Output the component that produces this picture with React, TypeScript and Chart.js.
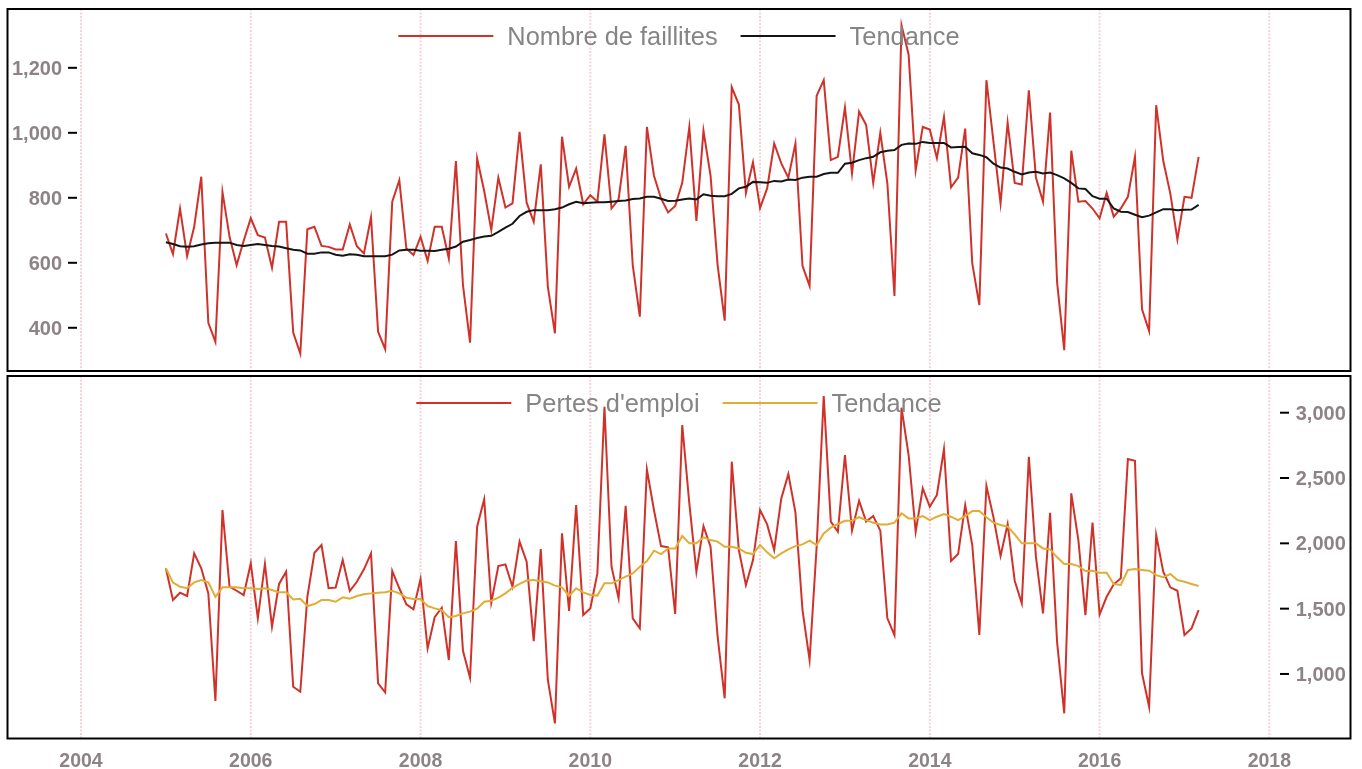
import React, { useEffect, useRef } from "react";
import { Chart, registerables } from "chart.js";

Chart.register(...registerables);

// ---------- data ----------
const START_YEAR = 2005; // first monthly observation: January 2005
const X_MIN = 2003.134;
const X_MAX = 2018.956;

const yearTicks = [2004, 2006, 2008, 2010, 2012, 2014, 2016, 2018];
const topTicks = [400, 600, 800, 1000, 1200];
const bottomTicks = [1000, 1500, 2000, 2500, 3000];

const faillites = [
  690, 627, 767, 621, 711, 865, 415, 357, 818, 680, 593, 668,
  737, 685, 678, 585, 726, 726, 385, 321, 703, 711, 652, 649,
  641, 641, 718, 651, 629, 740, 388, 334, 788, 854, 644, 624,
  680, 606, 711, 711, 613, 913, 531, 354, 921, 821, 701, 862,
  770, 783, 1003, 785, 726, 903, 526, 383, 988, 834, 890, 780,
  808, 788, 995, 767, 795, 960, 593, 434, 1018, 868, 798, 755,
  775, 846, 1018, 729, 1006, 868, 593, 422, 1140, 1087, 815, 909,
  769, 829, 967, 906, 862, 967, 591, 529, 1114, 1162, 916, 926,
  1078, 875, 1065, 1024, 846, 1000, 844, 498, 1331, 1241, 885, 1018,
  1010, 922, 1049, 832, 862, 1013, 598, 470, 1162, 972, 783, 1031,
  846, 841, 1131, 862, 788, 1062, 538, 331, 945, 788, 790, 767,
  737, 815, 742, 767, 803, 926, 457, 390, 1085, 914, 813, 672,
  803, 800, 926,
];

const faillitesTendance = [
  663, 658, 651, 649, 651, 656, 660, 662, 662, 662, 655, 652,
  655, 658, 655, 652, 650, 645, 640, 638, 628, 628, 632, 632,
  625, 622, 626, 625, 620, 620, 620, 620, 625, 638, 640, 640,
  637, 637, 636, 640, 643, 650, 665, 670, 676, 681, 683, 695,
  708, 720, 744, 757, 762, 762, 762, 765, 770, 780, 788, 783,
  785, 786, 786, 788, 790, 792, 796, 798, 803, 803, 797, 790,
  791, 795, 798, 795, 811, 806, 805, 805, 812, 829, 834, 849,
  848, 846, 852, 850, 856, 855, 862, 865, 865, 873, 877, 877,
  905, 908, 916, 922, 926, 940, 945, 947, 963, 967, 966, 972,
  969, 969, 969, 955, 956, 957, 937, 932, 925, 905, 893, 890,
  880, 872, 878, 880, 875, 878, 870, 860, 846, 829, 827, 805,
  797, 797, 767, 757, 756, 748, 740, 745, 755, 765, 765, 762,
  763, 764, 778,
];

const pertesEmploi = [
  1809, 1566, 1622, 1597, 1923, 1809, 1617, 793, 2255, 1668, 1637, 1604,
  1847, 1426, 1842, 1362, 1689, 1783, 902, 864, 1591, 1928, 1987, 1656,
  1661, 1872, 1635, 1706, 1801, 1923, 928, 859, 1788, 1656, 1533, 1495,
  1727, 1196, 1434, 1507, 1107, 2018, 1178, 971, 2127, 2337, 1546, 1826,
  1839, 1668, 2013, 1859, 1252, 1956, 954, 622, 2076, 1482, 2293, 1451,
  1502, 1770, 3046, 1821, 1579, 2288, 1426, 1349, 2566, 2255, 1979, 1969,
  1459, 2906, 2306, 1783, 2132, 1974, 1285, 814, 2625, 1949, 1681, 1872,
  2255, 2145, 1949, 2344, 2530, 2237, 1489, 1107, 1974, 3127, 2166, 2089,
  2676, 2097, 2325, 2166, 2209, 2097, 1426, 1298, 3038, 2676, 2089, 2421,
  2280, 2370, 2722, 1865, 1918, 2293, 1987, 1298, 2439, 2199, 1903, 2148,
  1714, 1541, 2663, 1898, 1464, 2234, 1240, 699, 2383, 2025, 1451, 2158,
  1456, 1591, 1686, 1732, 2645, 2632, 1005, 749, 2064, 1783, 1663, 1637,
  1298, 1349, 1489,
];

const pertesTendance = [
  1809, 1699, 1668, 1656, 1701, 1719, 1701, 1591, 1663, 1663, 1663, 1656,
  1656, 1650, 1656, 1643, 1625, 1625, 1571, 1576, 1520, 1535, 1566, 1566,
  1553, 1587, 1576, 1597, 1610, 1617, 1622, 1625, 1637, 1617, 1584, 1574,
  1574, 1520, 1502, 1489, 1434, 1444, 1464, 1477, 1500, 1553, 1561, 1584,
  1617, 1660, 1690, 1715, 1719, 1710, 1701, 1676, 1663, 1597, 1656, 1625,
  1605, 1600, 1694, 1694, 1719, 1745, 1770, 1821, 1865, 1944, 1918, 1961,
  1961, 2056, 2000, 2000, 2046, 2025, 2013, 1974, 1974, 1961, 1928, 1918,
  1987, 1931, 1885, 1923, 1954, 1979, 1992, 2020, 1987, 2076, 2120, 2148,
  2173, 2173, 2200, 2178, 2158, 2145, 2145, 2158, 2230, 2191, 2191, 2209,
  2178, 2204, 2224, 2204, 2178, 2209, 2247, 2247, 2199, 2158, 2140, 2127,
  2069, 2000, 2000, 2000, 1961, 1954, 1893, 1842, 1842, 1826, 1788, 1790,
  1775, 1775, 1689, 1681, 1796, 1803, 1796, 1790, 1757, 1740, 1765, 1719,
  1706, 1689, 1673,
];

const monthX = faillites.map((_, i) => START_YEAR + i / 12);

// ---------- styles ----------
const RED = "#d0322a";
const BLACK = "#151515";
const YELLOW = "#e2ad35";
const GRID = "#f3d3d7";
const TICK_TEXT = "#8d8386";
const LEGEND_TEXT = "#858585";
const FONT = '"Liberation Sans", Arial, Helvetica, sans-serif';

const framePlugin = {
  id: "frame",
  beforeDatasetsDraw(chart: any) {
    const { ctx, chartArea: a, scales } = chart;
    const x = scales.x;
    ctx.save();
    ctx.strokeStyle = GRID;
    ctx.lineWidth = 2;
    ctx.setLineDash([2, 1.5]);
    for (const yr of yearTicks) {
      const px = x.getPixelForValue(yr);
      ctx.beginPath();
      ctx.moveTo(px, a.top);
      ctx.lineTo(px, a.bottom);
      ctx.stroke();
    }
    ctx.restore();
  },
  afterDraw(chart: any, _args: any, opts: any) {
    const { ctx, chartArea: a, scales } = chart;
    const x = scales.x;
    const y = scales.y;
    ctx.save();
    // frame
    ctx.strokeStyle = "#000";
    ctx.lineWidth = 2;
    ctx.setLineDash([]);
    ctx.strokeRect(a.left, a.top, a.right - a.left, a.bottom - a.top);

    // y ticks (inside the frame)
    ctx.font = `bold 20px ${FONT}`;
    ctx.textBaseline = "alphabetic";
    const ticks: number[] = opts.ticks || [];
    for (const v of ticks) {
      const py = y.getPixelForValue(v);
      ctx.strokeStyle = "#000";
      ctx.lineWidth = 2;
      ctx.beginPath();
      if (opts.side === "left") {
        ctx.moveTo(a.left + 60.5, py);
        ctx.lineTo(a.left + 69.5, py);
      } else {
        ctx.moveTo(a.right - 70.5, py);
        ctx.lineTo(a.right - 61.5, py);
      }
      ctx.stroke();
      ctx.fillStyle = TICK_TEXT;
      const label = v.toLocaleString("en-US");
      if (opts.side === "left") {
        ctx.textAlign = "right";
        ctx.fillText(label, a.left + 54.5, py + 7);
      } else {
        ctx.textAlign = "left";
        ctx.fillText(label, a.right - 54.8, py + 7);
      }
    }

    // x labels
    if (opts.xLabels) {
      ctx.font = `bold 19.5px ${FONT}`;
      ctx.textAlign = "center";
      ctx.fillStyle = TICK_TEXT;
      for (const yr of yearTicks) {
        ctx.fillText(String(yr), x.getPixelForValue(yr), a.bottom + 28);
      }
    }

    // legend
    ctx.font = `25.4px ${FONT}`;
    ctx.textAlign = "left";
    const ds = chart.data.datasets;
    const lineLen = 95;
    const gap = 14;
    const between = 23;
    const widths = ds.map((d: any) => ctx.measureText(d.label).width);
    let total = 0;
    widths.forEach((w: number, i: number) => {
      total += lineLen + gap + w + (i > 0 ? between : 0);
    });
    let cx = (a.left + a.right) / 2 - total / 2;
    const ly = a.top + 27;
    ds.forEach((d: any, i: number) => {
      ctx.strokeStyle = d.borderColor;
      ctx.lineWidth = 2;
      ctx.beginPath();
      ctx.moveTo(cx, ly);
      ctx.lineTo(cx + lineLen, ly);
      ctx.stroke();
      ctx.fillStyle = LEGEND_TEXT;
      ctx.fillText(d.label, cx + lineLen + gap, ly + 9);
      cx += lineLen + gap + widths[i] + between;
    });
    ctx.restore();
  },
};

function makeConfig(p: {
  series: number[];
  trend: number[];
  seriesLabel: string;
  trendColor: string;
  yMin: number;
  yMax: number;
  padding: { left: number; right: number; top: number; bottom: number };
  ticks: number[];
  side: "left" | "right";
  xLabels: boolean;
}): any {
  return {
    type: "line",
    data: {
      datasets: [
        {
          label: p.seriesLabel,
          data: p.series.map((v, i) => ({ x: monthX[i], y: v })),
          borderColor: RED,
          backgroundColor: RED,
          borderWidth: 2,
          pointRadius: 0,
          tension: 0,
          order: 1,
        },
        {
          label: "Tendance",
          data: p.trend.map((v, i) => ({ x: monthX[i], y: v })),
          borderColor: p.trendColor,
          backgroundColor: p.trendColor,
          borderWidth: 2,
          pointRadius: 0,
          tension: 0,
          order: 0,
        },
      ],
    },
    options: {
      responsive: false,
      maintainAspectRatio: false,
      animation: false,
      events: [],
      layout: { padding: p.padding },
      scales: {
        x: { type: "linear", min: X_MIN, max: X_MAX, display: false },
        y: { type: "linear", min: p.yMin, max: p.yMax, display: false },
      },
      plugins: {
        legend: { display: false },
        tooltip: { enabled: false },
        frame: { ticks: p.ticks, side: p.side, xLabels: p.xLabels },
      },
    },
    plugins: [framePlugin],
  };
}

export default function App() {
  const topRef = useRef<HTMLCanvasElement>(null);
  const bottomRef = useRef<HTMLCanvasElement>(null);

  useEffect(() => {
    const charts: Chart[] = [];
    if (topRef.current) {
      charts.push(
        new Chart(
          topRef.current,
          makeConfig({
            series: faillites,
            trend: faillitesTendance,
            seriesLabel: "Nombre de faillites",
            trendColor: BLACK,
            yMin: 267,
            yMax: 1381,
            padding: { left: 7.5, right: 11.5, top: 9, bottom: 3 },
            ticks: topTicks,
            side: "left",
            xLabels: false,
          })
        )
      );
    }
    if (bottomRef.current) {
      charts.push(
        new Chart(
          bottomRef.current,
          makeConfig({
            series: pertesEmploi,
            trend: pertesTendance,
            seriesLabel: "Pertes d'emploi",
            trendColor: YELLOW,
            yMin: 506,
            yMax: 3281,
            padding: { left: 7.5, right: 11.5, top: 2, bottom: 30.5 },
            ticks: bottomTicks,
            side: "right",
            xLabels: true,
          })
        )
      );
    }
    return () => charts.forEach((c) => c.destroy());
  }, []);

  return (
    <div
      style={{
        position: "absolute",
        left: 0,
        top: 0,
        width: 1362,
        height: 769,
        background: "#fff",
        overflow: "hidden",
      }}
    >
      <canvas
        ref={topRef}
        width={1362}
        height={374}
        style={{ position: "absolute", left: 0, top: 0, width: 1362, height: 374 }}
      />
      <canvas
        ref={bottomRef}
        width={1362}
        height={395}
        style={{ position: "absolute", left: 0, top: 374, width: 1362, height: 395 }}
      />
    </div>
  );
}
